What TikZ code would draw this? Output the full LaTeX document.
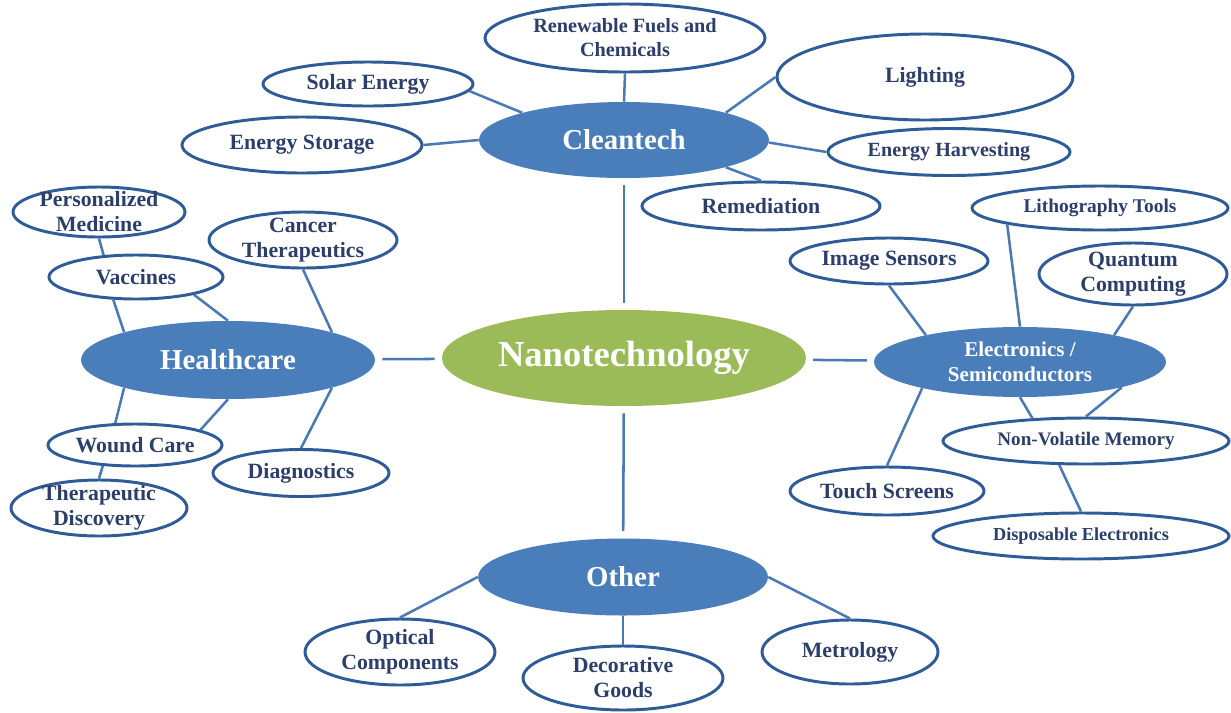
\documentclass[tikz,border=0pt]{standalone}
\usepackage{fontspec}
\setmainfont{Liberation Serif}
\usepackage{xcolor}
\usetikzlibrary{shapes.geometric}

\definecolor{hubblue}{HTML}{4A7EBB}
\definecolor{nanogreen}{HTML}{9BBB59}
\definecolor{rimblue}{HTML}{2F5C98}
\definecolor{inkblue}{HTML}{2C3F6B}
\definecolor{linkblue}{HTML}{4A7AB6}

\tikzset{
  hub/.style 2 args={ellipse, fill=hubblue, text=white, align=center, inner sep=0pt,
    font=\fontsize{20.5}{22}\selectfont\bfseries,
    minimum width=#1*0.025cm, minimum height=#2*0.025cm},
  leaf/.style 2 args={ellipse, draw=rimblue, line width=2.1pt, fill=white, text=inkblue,
    align=center, inner sep=0pt, font=\fontsize{15.5}{17.8}\selectfont\bfseries,
    minimum width=#1*0.025cm, minimum height=#2*0.025cm},
  fs/.style={font=\fontsize{#1}{17}\selectfont\bfseries},
  tight/.style={inner ysep=-5pt},
  link/.style={draw=linkblue, line width=1.8pt},
  gap/.style={shorten >=5pt, shorten <=5pt},
}

\begin{document}
\begin{tikzpicture}[x=0.025cm, y=-0.025cm]

  \fill[white] (0,0) rectangle (1231,712);
  \useasboundingbox (0,0) rectangle (1231,712);

  % hubs
  \node[hub={364}{96}, fill=nanogreen, font=\fontsize{26}{28}\selectfont\bfseries] (nano) at (624,358) {Nanotechnology};
  \node[hub={290}{76}] (clean) at (624,140) {Cleantech};
  \node[hub={294}{78}] (health) at (228,360) {Healthcare};
  \node[hub={292}{70}, font=\fontsize{15}{18}\selectfont\bfseries] (elec) at (1020,362) {Electronics /\\Semiconductors};
  \node[hub={290}{77}] (other) at (623,577) {Other};

  % cleantech
  \node[leaf={280}{68}, fs=14.4, tight] (fuels) at (625,38) {Renewable Fuels and\\Chemicals};
  \node[leaf={210}{44}] (solar) at (368,84) {Solar Energy};
  \node[leaf={240}{56}] (storage) at (302,145) {Energy Storage};
  \node[leaf={296}{86}] (light) at (925,77) {Lighting};
  \node[leaf={242}{47}, fs=14.3] (harvest) at (949,152) {Energy Harvesting};
  \node[leaf={238}{48}] (remed) at (761,206) {Remediation};

  % healthcare
  \node[leaf={172}{50}, tight] (persmed) at (99,212) {Personalized\\Medicine};
  \node[leaf={174}{44}] (vacc) at (136,277) {Vaccines};
  \node[leaf={188}{56}, tight] (cancer) at (303,240) {Cancer\\Therapeutics};
  \node[leaf={174}{42}] (wound) at (135,445) {Wound Care};
  \node[leaf={176}{56}, tight] (therdisc) at (99,508) {Therapeutic\\Discovery};
  \node[leaf={176}{47}] (diag) at (301,473) {Diagnostics};

  % electronics
  \node[leaf={256}{44}, fs=13.8] (litho) at (1100,208) {Lithography Tools};
  \node[leaf={198}{46}] (imgsens) at (889,261) {Image Sensors};
  \node[leaf={188}{62}, tight] (quantum) at (1133,274) {Quantum\\Computing};
  \node[leaf={286}{46}, fs=13.6] (nvm) at (1086,441) {Non-Volatile Memory};
  \node[leaf={194}{48}] (touch) at (887,491) {Touch Screens};
  \node[leaf={296}{46}, fs=13] (dispos) at (1081,536) {Disposable Electronics};

  % other
  \node[leaf={190}{66}, tight] (optical) at (400,652) {Optical\\Components};
  \node[leaf={200}{64}, tight] (decor) at (623,678) {Decorative\\Goods};
  \node[leaf={176}{64}] (metro) at (850,652) {Metrology};

  % main links
  \draw[link, gap] (clean) -- (nano);
  \draw[link, gap] (health) -- (nano);
  \draw[link, gap] (nano) -- (elec);
  \draw[link, gap] (nano) -- (other);

  \draw[link] (solar.-4) -- (clean.165);
  \draw[link] (storage.east) -- (clean.west);
  \draw[link] (fuels.south) -- (clean.north);
  \draw[link] (light.west) -- (clean.15);
  \draw[link] (harvest.west) -- (clean.-1);
  \draw[link] (remed.north) -- (clean.-15);

  \draw[link] (vacc.-135) -- (health.165);
  \draw[link] (vacc.-17) -- (health.north);
  \draw[link] (cancer.south) -- (health.15);
  \draw[link] (health.195) -- (wound.132);
  \draw[link] (health.south) -- (wound.13);
  \draw[link] (health.-15) -- (diag.north);
  \draw[link] (persmed.south) -- (vacc.146);
  \draw[link] (wound.213) -- (therdisc.north);

  \draw[link] (imgsens.south) -- (elec.164);
  \draw[link] (litho.190) -- (elec.north);
  \draw[link] (quantum.south) -- (elec.16);
  \draw[link] (elec.195) -- (touch.north);
  \draw[link] (elec.south) -- (nvm.157);
  \draw[link] (elec.-14) -- (nvm.north);
  \draw[link] (nvm.222) -- (dispos.north);

  \draw[link] (optical.north) -- (other.west);
  \draw[link] (other.south) -- (decor.north);
  \draw[link] (other.east) -- (metro.north);

\end{tikzpicture}
\end{document}
